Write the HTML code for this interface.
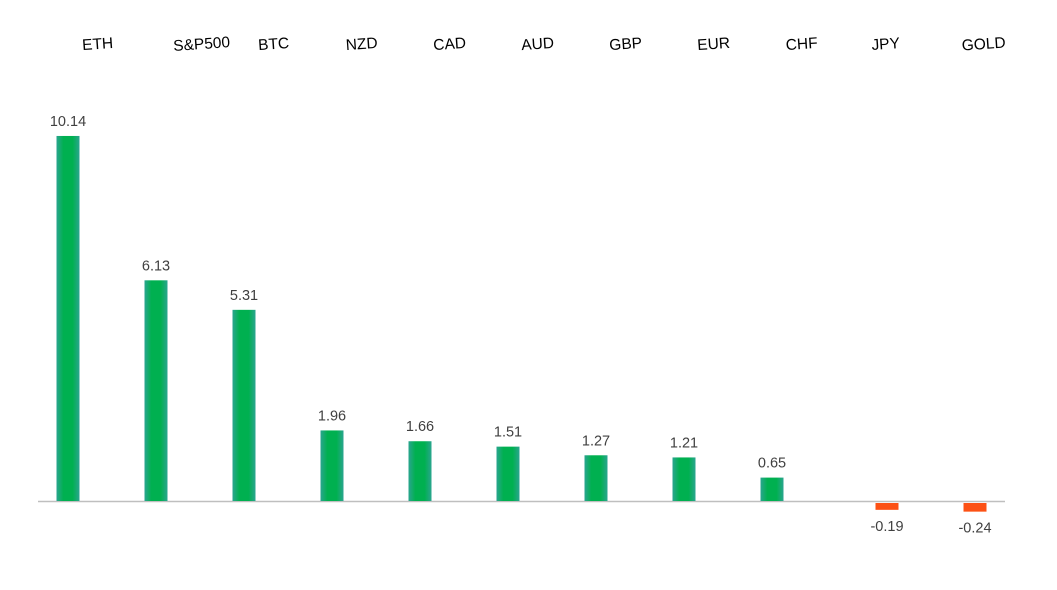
<!DOCTYPE html>
<html><head><meta charset="utf-8"><style>
body{margin:0;background:#fff;}
svg text{font-family:"Liberation Sans",sans-serif;}
</style></head><body>
<svg id="chart" width="1057" height="585" xmlns="http://www.w3.org/2000/svg">
<defs>
<linearGradient id="gg" x1="0" x2="1" y1="0" y2="0">
<stop offset="0" stop-color="#2aa58f"/><stop offset="0.3" stop-color="#00b050"/><stop offset="0.7" stop-color="#00b050"/><stop offset="1" stop-color="#2aa58f"/>
</linearGradient>
</defs>
<line x1="38" x2="1005" y1="501.5" y2="501.5" stroke="#bfbfbf" stroke-width="1.5"/>
<g id="marks"></g>
</svg>
<script>
const categories=["ETH","S&P500","BTC","NZD","CAD","AUD","GBP","EUR","CHF","JPY","GOLD"];
const values=[10.14,6.13,5.31,1.96,1.66,1.51,1.27,1.21,0.65,-0.19,-0.24];
const valueLabels=["10.14","6.13","5.31","1.96","1.66","1.51","1.27","1.21","0.65","-0.19","-0.24"];
const NS="http://www.w3.org/2000/svg";
const g=document.getElementById('marks');
const base=501, scale=36.0;
function y(v){return base - v*scale;}
function xc(i,v){return 68+88*i+(v<0?27:0);}
function mk(t,a){const e=document.createElementNS(NS,t);for(const k in a)e.setAttribute(k,a[k]);g.appendChild(e);return e;}
categories.forEach((c,i)=>{
  const v=values[i], cx=xc(i,v);
  let r;
  if(v>=0){ r=mk('rect',{x:cx-11.5,y:y(v),width:23,height:base-y(v),fill:'url(#gg)'}); }
  else { r=mk('rect',{x:cx-11.5,y:base+2,width:23,height:-v*scale,fill:'#fc5115'}); }
  
  
  const ty=v>=0? y(v)-10 : base+2-v*scale+21;
  const t=mk('text',{x:cx,y:ty,'text-anchor':'middle','font-size':'14.5',fill:'#404040'});
  t.textContent=valueLabels[i];
  
  
  const lx=cx+(i==0?30:i==1?46:i>=9?0:30)+(i>=9?0:0);
  const ll=mk('text',{x:[98,202,274,362,450,540,625,714,800,885,983][0]*0+0,y:0,'text-anchor':'middle','font-size':'15.5',fill:'#000'});
  const labX=(i<9? cx+30 : cx+ (i==9?-1:9));
  const X=i==1?cx+46:labX;
  ll.setAttribute('transform','translate('+X+',49) rotate(-4)');
  ll.textContent=c;
  
  
});
</script>
</body></html>
